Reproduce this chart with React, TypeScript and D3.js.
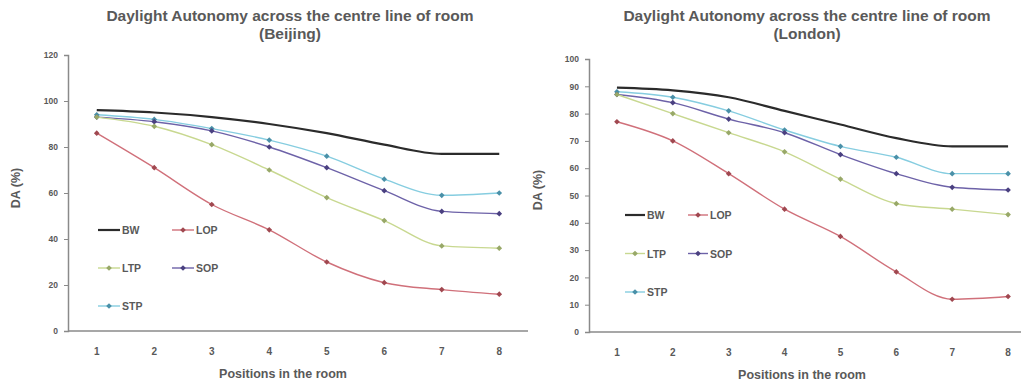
import { useEffect, useRef } from "react";
import * as d3 from "d3";

// positions along the centre line
const positions = ["1", "2", "3", "4", "5", "6", "7", "8"];
const seriesNames = ["BW", "LOP", "LTP", "SOP", "STP"];

// Beijing DA values (%)
const beijingBW = [96, 95, 93, 90, 86, 81, 77, 77];
const beijingLOP = [86, 71, 55, 44, 30, 21, 18, 16];
const beijingLTP = [93, 89, 81, 70, 58, 48, 37, 36];
const beijingSOP = [93, 91, 87, 80, 71, 61, 52, 51];
const beijingSTP = [94, 92, 88, 83, 76, 66, 59, 60];

// London DA values (%)
const londonBW = [89.5, 88.5, 86, 81, 76, 71, 68, 68];
const londonLOP = [77, 70, 58, 45, 35, 22, 12, 13];
const londonLTP = [87, 80, 73, 66, 56, 47, 45, 43];
const londonSOP = [87, 84, 78, 73, 65, 58, 53, 52];
const londonSTP = [88, 86, 81, 74, 68, 64, 58, 58];

const beijingTicks = [0, 20, 40, 60, 80, 100, 120];
const londonTicks = [0, 10, 20, 30, 40, 50, 60, 70, 80, 90, 100];

const lineColours = ["#2b2b2b", "#d0707a", "#c8d890", "#6d62a8", "#86cde0"];
const markColours = ["#2b2b2b", "#a04850", "#98a868", "#4a4080", "#4a90a8"];
const lineWidths = [2.2, 1.4, 1.4, 1.4, 1.4];

const font = "'Liberation Sans', Arial, sans-serif";
const grey = "#595959";

const drawChart = (svg, opts) => {
  const { left, right, top, bottom, yMax, ticks, series, title } = opts;
  const g = svg.append("g");

  const x = d3.scalePoint().domain(positions).range([left, right]).padding(0.5);
  const y = d3.scaleLinear().domain([0, yMax]).range([bottom, top]);

  // title, two lines
  [opts.titleLine, title].forEach((t, i) => {
    g.append("text")
      .attr("x", opts.titleX).attr("y", 21 + i * 18)
      .attr("text-anchor", "middle")
      .attr("font-family", font).attr("font-weight", "bold").attr("font-size", 15.5)
      .attr("fill", grey)
      .text(t);
  });

  // y axis
  const yAxis = g.append("g")
    .attr("transform", `translate(${left},0)`)
    .call(d3.axisLeft(y).tickValues(ticks).tickSize(4).tickPadding(6));
  yAxis.select(".domain").attr("stroke", "#8a8a8a").attr("stroke-width", 1.5);
  yAxis.selectAll(".tick line").attr("stroke", "#8a8a8a");
  yAxis.selectAll("text").attr("font-family", font).attr("font-size", 8.5).attr("font-weight", "bold").attr("fill", grey);

  // x axis
  const axisEnd = Math.min(right, 1021);
  g.append("line")
    .attr("x1", left).attr("x2", axisEnd).attr("y1", bottom).attr("y2", bottom)
    .attr("stroke", "#8a8a8a").attr("stroke-width", 1.5);
  g.selectAll(".xt")
    .data(positions)
    .join("text")
    .attr("x", d => x(d))
    .attr("y", bottom + 24)
    .attr("text-anchor", "middle")
    .attr("font-family", font).attr("font-size", 10).attr("font-weight", "bold")
    .attr("fill", grey)
    .text(d => d);

  // axis titles
  g.append("text")
    .attr("x", opts.xLabelX).attr("y", bottom + 47)
    .attr("text-anchor", "middle")
    .attr("font-family", font).attr("font-weight", "bold").attr("font-size", 12.5)
    .attr("fill", grey)
    .text("Positions in the room");
  g.append("text")
    .attr("transform", `translate(${opts.yLabelX},${opts.yLabelY}) rotate(-90)`)
    .attr("text-anchor", "middle")
    .attr("font-family", font).attr("font-weight", "bold").attr("font-size", 12.5)
    .attr("fill", grey)
    .text("DA (%)");

  const line = d3.line()
    .x((d, i) => x(positions[i]))
    .y(d => y(d))
    .curve(d3.curveMonotoneX);

  // draw from last to first so BW sits on top
  series.map((s, i) => ({ s, i })).reverse().forEach(({ s, i }) => {
    g.append("path")
      .attr("d", line(s))
      .attr("fill", "none")
      .attr("stroke", lineColours[i])
      .attr("stroke-width", lineWidths[i]);
    if (i > 0) {
      g.selectAll(null)
        .data(s)
        .join("rect")
        .attr("x", (d, j) => x(positions[j]) - 2)
        .attr("y", d => y(d) - 2)
        .attr("width", 4).attr("height", 4)
        .attr("transform", (d, j) => `rotate(45,${x(positions[j])},${y(d)})`)
        .attr("fill", markColours[i]);
    }
  });

  // legend
  const { legendX, legendY, legendGap, legendCol, legendLen } = opts;
  seriesNames.forEach((name, i) => {
    const lx = legendX + (i % 2) * legendCol;
    const ly = legendY + Math.floor(i / 2) * legendGap;
    g.append("line")
      .attr("x1", lx).attr("x2", lx + legendLen).attr("y1", ly).attr("y2", ly)
      .attr("stroke", lineColours[i]).attr("stroke-width", lineWidths[i]);
    if (i > 0) {
      g.append("rect")
        .attr("x", lx + legendLen / 2 - 2).attr("y", ly - 2).attr("width", 4).attr("height", 4)
        .attr("transform", `rotate(45,${lx + legendLen / 2},${ly})`)
        .attr("fill", markColours[i]);
    }
    g.append("text")
      .attr("x", lx + legendLen + 2).attr("y", ly + 4)
      .attr("font-family", font).attr("font-size", 10.5).attr("font-weight", "bold")
      .attr("fill", grey)
      .text(name);
  });
};

const App = () => {
  const ref = useRef(null);

  useEffect(() => {
    const svg = d3.select(ref.current);
    svg.selectAll("*").remove();

    drawChart(svg, {
      left: 68, right: 528, top: 55, bottom: 331, yMax: 120, ticks: beijingTicks,
      series: [beijingBW, beijingLOP, beijingLTP, beijingSOP, beijingSTP],
      titleLine: "Daylight Autonomy across the centre line of room",
      title: "(Beijing)", titleX: 290, xLabelX: 283, yLabelX: 20, yLabelY: 188,
      legendX: 98, legendY: 230, legendGap: 38, legendCol: 74, legendLen: 22,
    });
    drawChart(svg, {
      left: 589, right: 1036, top: 59, bottom: 332, yMax: 100, ticks: londonTicks,
      series: [londonBW, londonLOP, londonLTP, londonSOP, londonSTP],
      titleLine: "Daylight Autonomy across the centre line of room",
      title: "(London)", titleX: 807, xLabelX: 802, yLabelX: 542, yLabelY: 190,
      legendX: 625, legendY: 215, legendGap: 38.5, legendCol: 63, legendLen: 20,
    });

    return () => { svg.selectAll("*").remove(); };
  }, []);

  return (
    <svg
      ref={ref}
      width={1026}
      height={385}
      style={{ position: "absolute", left: 0, top: 0, background: "#fff" }}
    />
  );
};

export default App;
